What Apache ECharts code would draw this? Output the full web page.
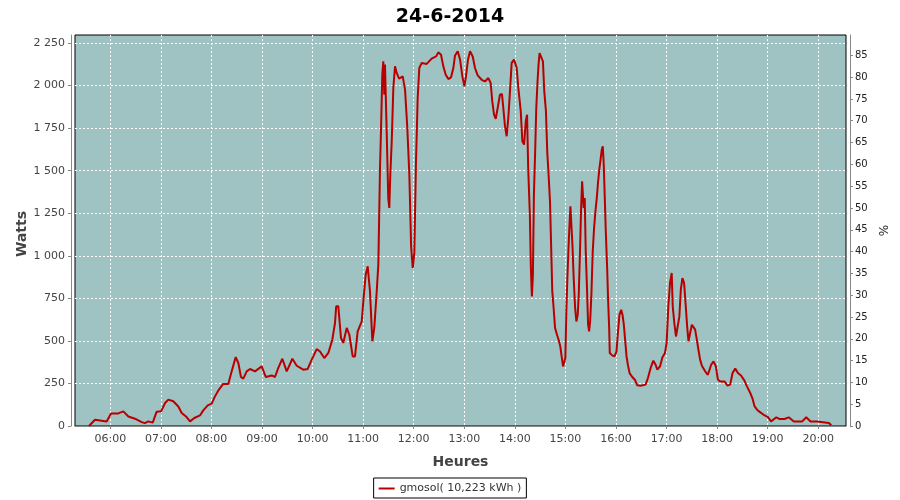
<!DOCTYPE html>
<html>
<head>
<meta charset="utf-8">
<script src="https://cdn.jsdelivr.net/npm/echarts@6/dist/echarts.min.js"></script>
<style>html,body{margin:0;padding:0;background:#fff}#c{width:900px;height:500px}</style>
</head>
<body>
<div id="c"></div>
<script>
// Time of day in minutes after midnight (24-6-2014)
const minutes = [334.7,341.8,343,355.7,360.8,369.5,375.4,381.4,389.3,397.2,401,405,410.3,415,420.2,425,428.8,434.7,440.7,444.7,449.8,454.6,459.7,466.4,470.3,475.6,480.3,484.2,488.2,494,500,504,508.8,511.9,515,517.8,521.8,525.8,531.7,539.6,544.4,551.5,555.4,559.3,564.1,569.3,576,581.2,589,594.2,599,604.9,608.8,613.9,618.7,623.4,626.6,628,630.5,633.7,636.4,640.5,643.6,647.6,650.3,653.5,658.3,660.2,663,665.4,668.1,670.9,673.2,676.1,678,680,681.2,682.7,683.9,685.1,685.9,687.9,689.8,691,692.2,693.9,695.8,697.8,699.8,702.6,706.9,709.7,712.4,714.8,716.9,718.8,720.7,722.7,724.7,726.6,729.5,735.4,741.3,746.5,749.2,752.4,755.1,758,761.1,764.2,767,769,772.2,775,777.7,780.1,782,784.4,786.8,790,792.7,795.9,800.6,804.6,808.5,811.3,813.2,815.3,817.3,819.6,822.3,824.7,826.3,828.3,830.3,832.2,834.2,836.2,839,842.2,844.1,847,848.9,850.9,852.9,854.5,855.8,857.8,859,860.2,861.4,862.6,864.2,865.4,866.9,868.1,869.3,871.3,873.3,874.9,876.9,878.4,880,881.7,883.2,884.4,886,887.7,890,891.9,893.9,895.5,897.2,898.3,899.9,901.1,902.3,903.8,905,905.9,907.1,908.3,909.8,911.5,913,914.6,915.8,917.4,918.6,919.8,921,921.7,922.9,924.1,925.7,926.9,928.1,929.3,930.8,932.4,934,935.6,937.2,938.8,940.4,941.9,943.1,944.3,945.5,946.7,947.9,949.5,950.7,951.9,952.6,955.5,958.2,960.6,962.1,964.1,966.2,967.7,969.3,971,972.5,974.1,976.1,979.3,982.4,985.2,989.2,995.1,997.9,1001.1,1004.3,1007,1009,1012.2,1015,1018.1,1020.1,1022.1,1024.1,1026.1,1027.3,1029.2,1031.2,1033.3,1035.2,1036.9,1038.8,1040.8,1042.8,1044.4,1046,1048,1050,1051.9,1053.9,1055.9,1057.8,1059.8,1061.9,1065.8,1069,1070.9,1072.9,1075.7,1078.5,1080.9,1083.6,1088.7,1092.3,1095.5,1098.3,1101.5,1104.7,1108.6,1112.2,1115.4,1119.3,1122.1,1124.5,1127.3,1131.3,1135.2,1140,1144,1145.9,1150.3,1154.3,1159.9,1165,1171,1181,1185.7,1190.8,1198.8,1200.7,1212.6,1215.4];
// Power in watts
const watts = [0,37,27,27,74,74,86,56,43,23,17,27,20,84,86,135,155,145,115,76,56,27,47,62,92,121,131,174,209,247,247,321,405,370,288,278,321,335,321,350,288,297,288,341,395,321,395,354,331,335,390,452,438,399,429,507,605,703,703,517,488,576,536,409,409,556,614,732,889,938,791,497,576,791,948,1516,1741,2064,2142,1946,2123,1731,1339,1281,1476,1672,1986,2113,2074,2040,2054,1976,1751,1476,1055,928,1016,1555,1927,2103,2133,2127,2158,2171,2195,2181,2113,2064,2038,2048,2103,2177,2201,2152,2054,1995,2054,2152,2201,2171,2103,2060,2034,2024,2044,2015,1907,1829,1805,1868,1946,1950,1868,1760,1702,1809,1966,2133,2152,2103,1986,1848,1672,1653,1789,1829,1516,1241,928,761,889,1359,1633,1868,2024,2123,2191,2191,2142,1966,1848,1613,1476,1319,1026,791,693,576,536,507,468,409,350,341,399,673,869,1065,1202,1290,1300,1065,869,693,614,654,771,1046,1281,1437,1437,1281,1339,1026,791,595,556,614,771,1026,1163,1261,1339,1437,1516,1574,1623,1643,1535,1339,1143,928,732,576,429,415,409,438,536,654,683,654,595,497,409,360,311,288,272,239,237,243,282,341,384,360,331,350,403,429,490,703,840,899,703,605,526,526,644,801,869,840,703,585,497,546,595,605,566,507,448,390,354,321,301,311,360,380,350,272,262,262,237,243,311,337,311,295,268,233,194,159,115,96,80,66,53,27,27,51,41,41,51,27,27,51,27,27,18,18,4];
const seriesName = 'gmosol( 10,223 kWh )';
const titleText = '24-6-2014';
const yTitle = 'Watts';
const leftTicks = [0,250,500,750,1000,1250,1500,1750,2000,2250];
const rightTicks = [0,5,10,15,20,25,30,35,40,45,50,55,60,65,70,75,80,85];

const base = new Date(2014, 5, 24, 0, 0, 0).getTime();
const toTs = m => base + Math.round(m * 60000);
const data = minutes.map((m, i) => [toTs(m), watts[i]]);

const FONT = 'DejaVu Sans';
const fmtW = v => {
  if (v >= 1000) return Math.floor(v / 1000) + ' ' + String(v % 1000).padStart(3, '0');
  return String(v);
};

const chart = echarts.init(document.getElementById('c'), null, {renderer: 'canvas'});
chart.setOption({
  animation: false,
  backgroundColor: '#ffffff',
  textStyle: {fontFamily: FONT},
  title: {
    text: titleText, left: 'center', top: 3,
    textStyle: {fontFamily: FONT, fontSize: 19, fontWeight: 'bold', color: '#000'}
  },
  graphic: [{
    type: 'text', x: 22, y: 234, rotation: Math.PI / 2,
    style: {text: yTitle, fontFamily: FONT, fontSize: 14, fontWeight: 'bold', fill: '#444',
      align: 'center', verticalAlign: 'middle'}
  }],
  legend: {
    data: [{name: seriesName, icon: 'rect'}],
    bottom: 2, left: 'center',
    borderColor: '#000', borderWidth: 1, borderRadius: 0,
    padding: [5, 5, 4, 5],
    itemWidth: 16, itemHeight: 2, itemGap: 5,
    textStyle: {fontFamily: FONT, fontSize: 11, color: '#333'}
  },
  grid: {
    left: 75, right: 54, top: 35, bottom: 74,
    show: true, backgroundColor: '#9ec3c2', borderColor: '#000', borderWidth: 1
  },
  xAxis: {
    type: 'time',
    min: toTs(318.1), max: toTs(1232.9),
    minInterval: 3600000, maxInterval: 3600000,
    offset: 3,
    name: 'Heures', nameLocation: 'middle', nameGap: 26,
    nameTextStyle: {fontFamily: FONT, fontSize: 14, fontWeight: 'bold', color: '#444'},
    axisLine: {show: true, lineStyle: {color: '#888', width: 1}},
    axisTick: {show: true, length: 3, lineStyle: {color: '#888'}},
    axisLabel: {
      formatter: '{HH}:{mm}', fontFamily: FONT, fontSize: 11, color: '#444', margin: 5,
      showMinLabel: false, showMaxLabel: false, hideOverlap: false
    },
    splitLine: {show: true, showMinLine: false, showMaxLine: false,
      lineStyle: {color: '#ffffff', type: [2, 2], width: 1}}
  },
  yAxis: [{
    type: 'value', position: 'left',
    min: 0, max: 2297, interval: 250,
    offset: 4,
    axisLine: {show: true, lineStyle: {color: '#888', width: 1}},
    axisTick: {show: true, length: 3, lineStyle: {color: '#888'}},
    axisLabel: {
      fontFamily: FONT, fontSize: 11, color: '#444', margin: 6,
      showMaxLabel: false,
      formatter: v => leftTicks.indexOf(v) >= 0 ? fmtW(v) : ''
    },
    splitLine: {show: true, showMinLine: false, showMaxLine: false,
      lineStyle: {color: '#ffffff', type: [2, 2], width: 1}}
  }, {
    type: 'value', position: 'right',
    min: 0, max: 89.66, interval: 5,
    offset: 4,
    name: '%', nameLocation: 'middle', nameGap: 26, nameRotate: 90,
    nameTextStyle: {fontFamily: FONT, fontSize: 12, color: '#222'},
    axisLine: {show: true, lineStyle: {color: '#888', width: 1}},
    axisTick: {show: true, length: 3, lineStyle: {color: '#888'}},
    axisLabel: {
      fontFamily: FONT, fontSize: 10, color: '#222', margin: 5,
      showMaxLabel: false,
      formatter: v => rightTicks.indexOf(v) >= 0 ? String(v) : ''
    },
    splitLine: {show: false}
  }],
  series: [{
    name: seriesName,
    type: 'line',
    yAxisIndex: 0,
    data: data,
    showSymbol: false,
    symbol: 'none',
    lineStyle: {color: '#b80000', width: 2},
    itemStyle: {color: '#b80000'}
  }]
});
</script>
</body>
</html>
